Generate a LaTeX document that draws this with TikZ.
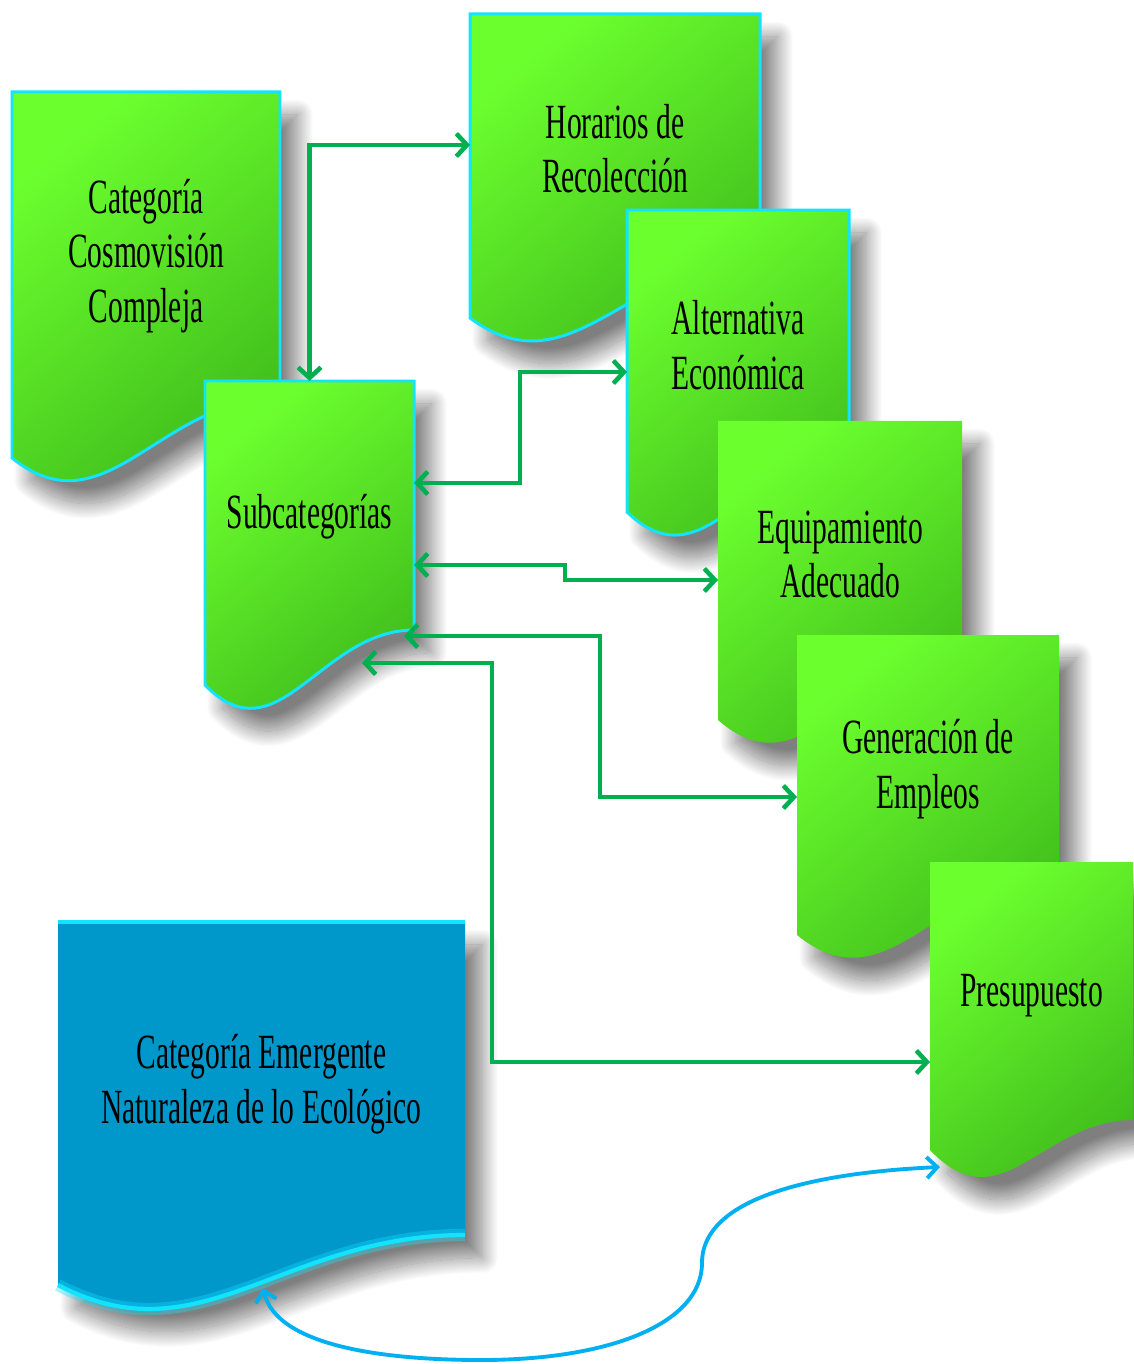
\documentclass[tikz,border=0pt]{standalone}
\usepackage{fontspec}
\setmainfont{Liberation Serif}[FakeStretch=0.6]
\usetikzlibrary{calc,fit,arrows.meta,shadows.blur}

\definecolor{limeTop}{HTML}{6CFF2E}
\definecolor{limeBot}{HTML}{3DB81A}
\definecolor{edgeCyan}{HTML}{12E4FF}
\definecolor{linkGreen}{HTML}{00B050}
\definecolor{ecoBlue}{HTML}{0097CB}
\definecolor{curveBlue}{HTML}{00B0F0}

\tikzset{
  area/.style={inner sep=0pt, outer sep=0pt},
  docshadow/.style={blur shadow={shadow xshift=10pt, shadow yshift=-13pt,
      shadow blur radius=9pt, shadow blur steps=30, shadow opacity=50}},
  docgreen/.style={docshadow, top color=limeTop, bottom color=limeBot, shading angle=40},
  docblue/.style={docshadow, fill=ecoBlue},
  rim/.style={draw=edgeCyan, line width=1.7pt},
  txt/.style={align=center, font=\fontsize{28}{31}\selectfont},
  link/.style={draw=linkGreen, line width=2.6pt,
      {Straight Barb[length=6pt,width=13pt]}-{Straight Barb[length=6pt,width=13pt]}},
  swoop/.style={draw=curveBlue, line width=2.2pt,
      {Straight Barb[length=6pt,width=12pt]}-{Straight Barb[length=6pt,width=12pt]}},
}

% document shape: top, right side, wavy bottom
\newcommand{\docwave}[2]{($(#1.south east)+(0,-#2)$)
    .. controls ($(#1.south west)!0.55!(#1.south east)+(0,-#2)$)
    and ($(#1.south west)!0.35!(#1.south east)+(0,75)$) .. (#1.south west)}
\newcommand{\docshape}[3][]{%
  \path[#1] (#2.north west) -- (#2.north east) -- \docwave{#2}{#3} -- cycle;}

\begin{document}
\begin{tikzpicture}[x=0.02cm,y=-0.02cm]
\useasboundingbox (0,0) rectangle (1133,1364);

% areas of the boxes (pixel units)
\node[area, fit={(12,92) (280,458)}] (cat) {};
\node[area, fit={(205,381) (414,685)}] (sub) {};
\node[area, fit={(470,14) (760,318)}] (hor) {};
\node[area, fit={(627,210) (849,512)}] (alt) {};
\node[area, fit={(718,421) (962,720)}] (equ) {};
\node[area, fit={(797,635) (1059,935)}] (gen) {};
\node[area, fit={(930,862) (1133,1150)}] (pre) {};
\node[area, fit={(58,922) (465,1285)}] (eco) {};

\docshape[docgreen,rim]{cat}{60}
\node[txt] (catT) at ([yshift=11pt]cat.center) {Categoría\\Cosmovisión\\Compleja};

\docshape[docgreen,rim]{sub}{55}
\node[txt] (subT) at ([yshift=9pt]sub.center) {Subcategorías};

\docshape[docgreen,rim]{hor}{58}
\node[txt] (horT) at ([yshift=10pt]hor.center) {Horarios de\\Recolección};

\docshape[docgreen,rim]{alt}{57}
\node[txt] (altT) at ([yshift=9pt]alt.center) {Alternativa\\Económica};

\docshape[docgreen]{equ}{60}
\node[txt] (equT) at ([yshift=9pt]equ.center) {Equipamiento\\Adecuado};

\docshape[docgreen]{gen}{60}
\node[txt] (genT) at ([yshift=9pt]gen.center) {Generación de\\Empleos};

\docshape[docgreen]{pre}{30}
\node[txt] (preT) at ([yshift=6pt]pre.center) {Presupuesto};

\docshape[docblue]{eco}{50}
% cyan glow on top and bottom
\draw[draw=edgeCyan, line width=2.4pt] (eco.north west) -- (eco.north east);
\draw[draw=edgeCyan, line width=7pt, opacity=0.35, yshift=3.5pt] \docwave{eco}{50};
\draw[draw=edgeCyan, line width=2.4pt] \docwave{eco}{50};
\node[txt] (ecoT) at ([yshift=11pt]eco.center) {Categoría Emergente\\Naturaleza de lo Ecológico};

% green connectors
\draw[link] (sub.north) |- ($(hor.north west)+(0,131)$);
\draw[link] ($(sub.north east)+(0,102)$) -- ++(106,0) |- ($(alt.north west)+(0,162)$);
\draw[link] ($(sub.north east)+(0,184)$) -- ++(151,0) |- ($(equ.north west)+(0,159)$);
\draw[link] ($(sub.south east)+(-10,-49)$) -- ++(196,0) |- ($(gen.north west)+(0,162)$);
\draw[link] ($(sub.south east)+(-52,-22)$) -- ++(130,0) |- ($(pre.north west)+(0,200)$);

% blue curve
\coordinate (ecoTip) at ($(eco.south west)+(205,3)$);
\coordinate (preTip) at ($(pre.south west)+(10,17)$);
\draw[swoop] (ecoTip) .. controls +(14,60) and +(-90,0) .. (481,1360)
  .. controls +(130,0) and +(0,60) .. (702,1263)
  .. controls +(0,-70) and +(-110,5) .. (preTip);
\end{tikzpicture}
\end{document}
